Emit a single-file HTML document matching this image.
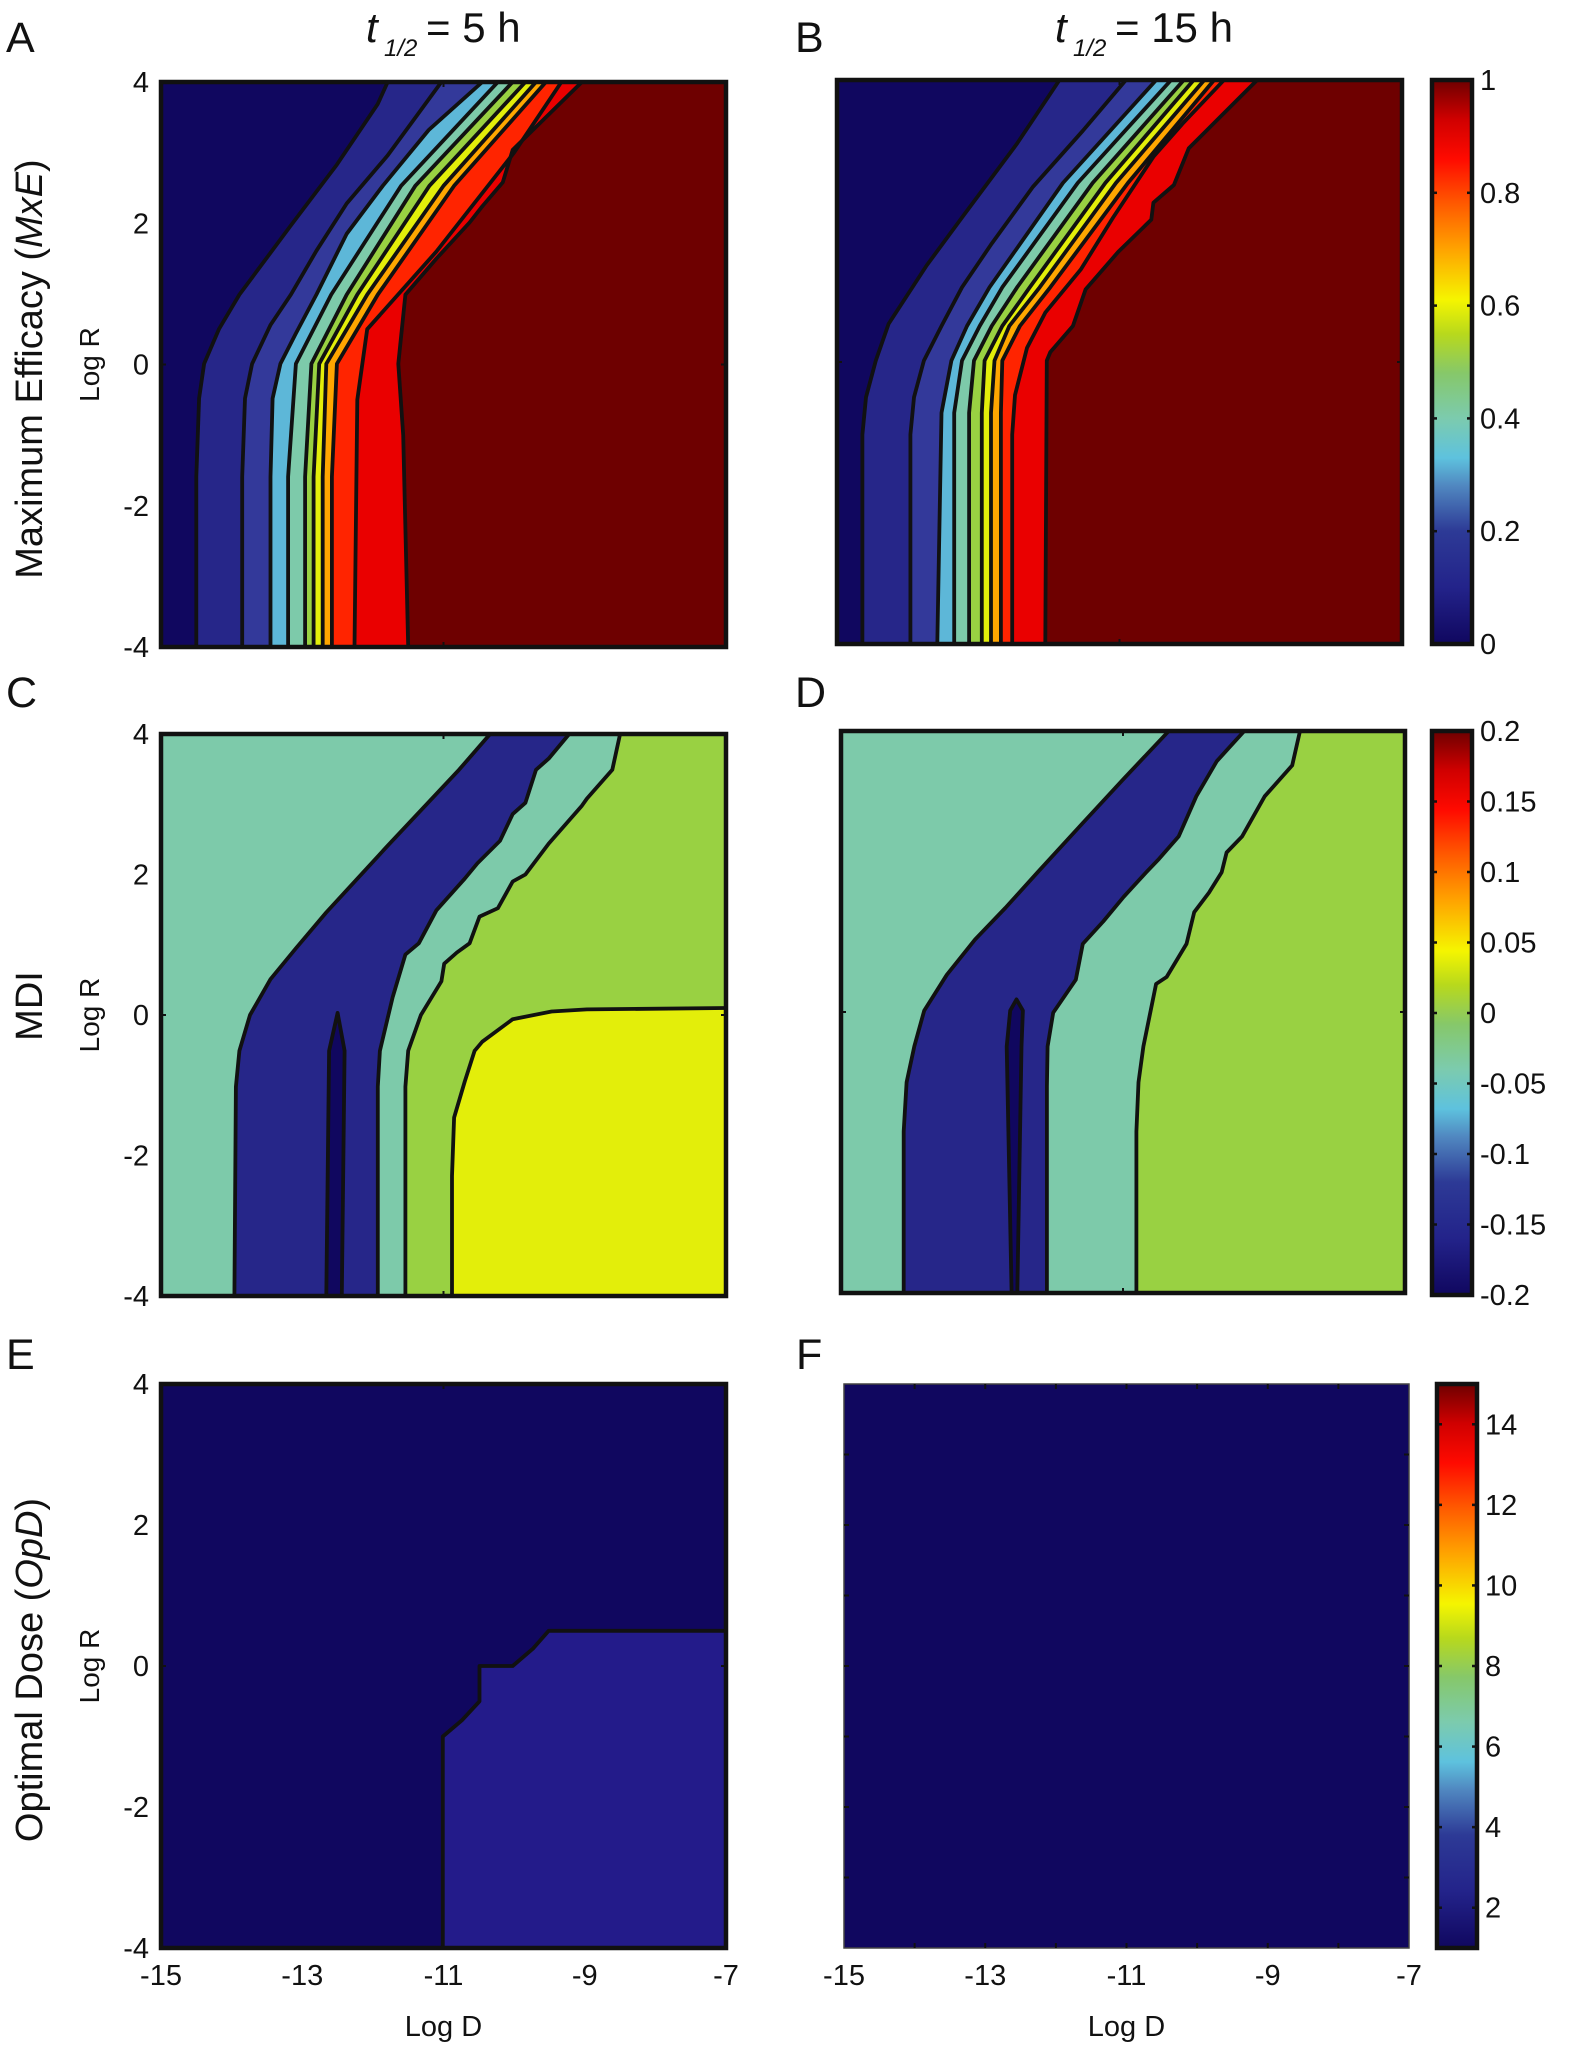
<!DOCTYPE html>
<html><head><meta charset="utf-8"><style>
html,body{margin:0;padding:0;background:#fff;}
svg{display:block;font-family:"Liberation Sans",Arial,sans-serif;}
</style></head><body>
<svg id="fig" width="1571" height="2048" viewBox="0 0 1571 2048"></svg>
<script>
// ---------- data (Log D, Log R) ----------
const xTicks = [-15, -13, -11, -9, -7];
const yTicks = [4, 2, 0, -2, -4];
const cbTicksB = [0, 0.2, 0.4, 0.6, 0.8, 1];
const cbLabelsB = ['0', '0.2', '0.4', '0.6', '0.8', '1'];
const cbTicksD = [-0.2, -0.15, -0.1, -0.05, 0, 0.05, 0.1, 0.15, 0.2];
const cbLabelsD = ['-0.2', '-0.15', '-0.1', '-0.05', '0', '0.05', '0.1', '0.15', '0.2'];
const cbTicksF = [2, 4, 6, 8, 10, 12, 14];
const cbLabelsF = ['2', '4', '6', '8', '10', '12', '14'];

// Panel A contour boundaries (each from top to bottom)
const A_b1 = [[-11.79,4],[-11.93,3.69],[-12.51,2.83],[-13.16,1.97],[-13.89,0.99],[-14.18,0.5],[-14.39,0.01],[-14.46,-0.48],[-14.5,-1.59],[-14.5,-4]];
const A_b2 = [[-11.03,4],[-11.79,2.96],[-12.37,2.28],[-12.8,1.61],[-13.16,0.99],[-13.45,0.56],[-13.71,0.01],[-13.81,-0.48],[-13.85,-1.59],[-13.85,-4]];
const A_b3 = [[-10.45,4],[-11.21,3.32],[-11.86,2.53],[-12.37,1.85],[-12.8,0.99],[-13.09,0.44],[-13.31,0.01],[-13.42,-0.48],[-13.45,-1.59],[-13.45,-4]];
const A_b4 = [[-10.23,4],[-11.6,2.53],[-12.59,0.99],[-13.09,0.01],[-13.2,-1.59],[-13.2,-4]];
const A_b5 = [[-10.02,4],[-11.4,2.53],[-12.37,0.99],[-12.87,0.01],[-12.96,-1.59],[-12.96,-4]];
const A_b6 = [[-9.84,4],[-11.2,2.53],[-12.22,0.99],[-12.76,0.01],[-12.84,-1.59],[-12.84,-4]];
const A_b7 = [[-9.69,4],[-11.0,2.53],[-12.08,0.99],[-12.66,0.01],[-12.71,-1.59],[-12.71,-4]];
const A_b8 = [[-9.55,4],[-10.85,2.53],[-11.93,0.99],[-12.51,0.01],[-12.58,-1.59],[-12.58,-4]];
const A_b9 = [[-9.33,4],[-10.0,3.0],[-11.1,1.6],[-12.08,0.5],[-12.22,-0.5],[-12.26,-4]];
const A_b10 = [[-9.04,4],[-10.02,3.04],[-10.16,2.58],[-10.45,2.24],[-10.63,2.01],[-11.1,1.5],[-11.54,0.99],[-11.64,0.01],[-11.57,-1.0],[-11.5,-4]];

// Panel B
const B_b1 = [[-11.85,4],[-12.45,3.10],[-13.23,2.05],[-13.73,1.37],[-14.27,0.54],[-14.45,0.02],[-14.59,-0.50],[-14.64,-1.03],[-14.64,-4]];
const B_b2 = [[-10.91,4],[-11.52,3.28],[-12.23,2.48],[-12.81,1.68],[-13.23,1.06],[-13.52,0.51],[-13.77,0.02],[-13.91,-0.50],[-13.96,-1.03],[-13.96,-4]];
const B_b3 = [[-10.48,4],[-11.80,2.54],[-12.84,1.06],[-13.16,0.51],[-13.38,0.02],[-13.52,-0.72],[-13.58,-4]];
const B_b4 = [[-10.27,4],[-11.59,2.54],[-12.66,1.06],[-12.98,0.51],[-13.23,0.02],[-13.34,-0.72],[-13.34,-4]];
const B_b5 = [[-10.09,4],[-11.38,2.54],[-12.45,1.06],[-12.81,0.51],[-13.06,0.02],[-13.13,-0.72],[-13.13,-4]];
const B_b6 = [[-9.95,4],[-11.20,2.54],[-12.27,1.06],[-12.66,0.51],[-12.91,0.02],[-12.95,-0.72],[-12.95,-4]];
const B_b7 = [[-9.80,4],[-11.05,2.54],[-12.13,1.06],[-12.56,0.51],[-12.77,0.02],[-12.82,-0.72],[-12.82,-4]];
const B_b8 = [[-9.66,4],[-10.88,2.54],[-11.98,1.06],[-12.41,0.51],[-12.66,0.02],[-12.68,-0.72],[-12.68,-4]];
const B_b9 = [[-9.52,4],[-10.09,3.40],[-10.52,2.91],[-11.09,2.05],[-11.55,1.31],[-12.05,0.70],[-12.31,0.20],[-12.48,-0.47],[-12.52,-1.03],[-12.52,-4]];
const B_b10 = [[-9.05,4],[-10.02,3.03],[-10.23,2.51],[-10.52,2.26],[-10.55,2.02],[-11.02,1.56],[-11.48,1.03],[-11.66,0.51],[-11.98,0.14],[-12.03,0.02],[-12.05,-4]];

// Panel C
const C_b1 = [[-10.34,4],[-10.78,3.49],[-11.79,2.41],[-12.66,1.46],[-13.09,0.95],[-13.45,0.51],[-13.74,0],[-13.89,-0.51],[-13.94,-1.02],[-13.96,-4]];
const C_sliver = [[-12.66,-4],[-12.62,-0.51],[-12.50,0.03],[-12.40,-0.51],[-12.44,-4]];
const C_b3 = [[-9.22,4],[-9.51,3.65],[-9.69,3.49],[-9.84,3.02],[-10.02,2.86],[-10.20,2.48],[-10.52,2.16],[-10.70,1.94],[-11.10,1.49],[-11.35,1.02],[-11.54,0.86],[-11.72,0.25],[-11.90,-0.51],[-11.93,-1.02],[-11.93,-4]];
const C_b4 = [[-8.50,4],[-8.61,3.49],[-8.97,3.08],[-9.04,2.98],[-9.51,2.44],[-9.84,2.0],[-10.02,1.90],[-10.23,1.52],[-10.49,1.40],[-10.63,1.02],[-10.81,0.89],[-10.99,0.73],[-11.03,0.48],[-11.32,0],[-11.50,-0.51],[-11.54,-1.02],[-11.54,-4]];
const C_b5 = [[-7,0.10],[-8.97,0.08],[-9.47,0.05],[-10.02,-0.06],[-10.45,-0.38],[-10.56,-0.51],[-10.70,-0.95],[-10.85,-1.46],[-10.88,-2.29],[-10.88,-4]];

// Panel D
const D_b1 = [[-10.35,4],[-10.99,3.32],[-11.57,2.69],[-12.21,1.99],[-12.67,1.48],[-13.10,1.03],[-13.50,0.53],[-13.82,0.02],[-13.96,-0.49],[-14.07,-1.0],[-14.11,-1.70],[-14.11,-4]];
const D_sliver = [[-12.58,-4],[-12.65,-0.49],[-12.60,0.02],[-12.51,0.18],[-12.42,0.02],[-12.44,-0.49],[-12.50,-4]];
const D_b3 = [[-9.28,4],[-9.49,3.77],[-9.67,3.57],[-9.96,3.07],[-10.21,2.50],[-10.49,2.18],[-10.67,1.99],[-10.99,1.64],[-11.28,1.29],[-11.57,0.97],[-11.67,0.46],[-11.99,-0.01],[-12.07,-0.49],[-12.08,-1.06],[-12.08,-4]];
const D_b4 = [[-8.49,4],[-8.60,3.51],[-8.99,3.07],[-9.31,2.50],[-9.53,2.27],[-9.60,1.99],[-9.78,1.70],[-9.99,1.42],[-10.10,0.97],[-10.38,0.50],[-10.53,0.40],[-10.71,-0.49],[-10.78,-1.0],[-10.81,-1.70],[-10.81,-4]];

// Panel E
const E_b1 = [[-7,0.5],[-9.51,0.5],[-9.73,0.25],[-10.02,0],[-10.49,0],[-10.49,-0.5],[-10.74,-0.77],[-11.01,-1.0],[-11.01,-4]];

// ---------- styling ----------
const NAVY='#10075f', BLUE='#262689', MBLUE='#33399a', LBLUE='#5db7d8', TEAL='#7dcaaa', GREEN='#99d142', YEL='#e3ee0a', ORA='#ffa600', OREDD='#ff2400', RED='#ea0000', DRED='#6e0000';
const SVGNS='http://www.w3.org/2000/svg';
const svg=document.getElementById('fig');
function el(tag, attrs, parent){const e=document.createElementNS(SVGNS,tag);for(const k in attrs)e.setAttribute(k,attrs[k]);(parent||svg).appendChild(e);return e;}
function txt(s, attrs, parent){const t=el('text',attrs,parent);t.textContent=s;return t;}

function makePanel(name, box){
  const g=el('g',{});
  
  
  const sx=v=>box.x0+(v+15)/8*(box.x1-box.x0);
  const sy=v=>box.y1-(v+4)/8*(box.y1-box.y0);
  const pts=a=>a.map(p=>sx(p[0]).toFixed(1)+','+sy(p[1]).toFixed(1)).join(' ');
  return {g,sx,sy,pts,box};
}
function bg(P,color){
  const r=el('rect',{x:P.box.x0,y:P.box.y0,width:P.box.x1-P.box.x0,height:P.box.y1-P.box.y0,fill:color},P.g);
  
  
}
function rightRegion(P,bnd,color,name){
  const poly=bnd.concat([[-7,-4],[-7,4]]);
  const p=el('polygon',{points:P.pts(poly),fill:color},P.g);
  
  
}
function closedRegion(P,poly,color,name){
  const p=el('polygon',{points:P.pts(poly),fill:color},P.g);
  
  
}
function line(P,bnd,closed,w){
  const l=el(closed?'polygon':'polyline',{points:P.pts(bnd),fill:'none',stroke:'#111','stroke-width':w||3.8,'stroke-linejoin':'round'},P.g);
  
  
}
function frame(P,thin,minor){
  const b=P.box;
  const r=el('rect',{x:b.x0,y:b.y0,width:b.x1-b.x0,height:b.y1-b.y0,fill:'none',stroke:thin?'#444':'#111','stroke-width':thin?1.5:4.5},P.g);
  
  
  const xs=minor?[-14,-13,-12,-11,-10,-9,-8]:[-11];
  const ys=minor?[3,2,1,0,-1,-2,-3]:[0];
  xs.forEach(v=>{el('line',{x1:P.sx(v),x2:P.sx(v),y1:b.y0,y2:b.y0+5,stroke:'#111','stroke-width':2},P.g);el('line',{x1:P.sx(v),x2:P.sx(v),y1:b.y1,y2:b.y1-5,stroke:'#111','stroke-width':2},P.g);});
  ys.forEach(v=>{el('line',{x1:b.x0,x2:b.x0+5,y1:P.sy(v),y2:P.sy(v),stroke:'#111','stroke-width':2},P.g);el('line',{x1:b.x1,x2:b.x1-5,y1:P.sy(v),y2:P.sy(v),stroke:'#111','stroke-width':2},P.g);});
}
function yLabels(P){
  yTicks.forEach(v=>{
    const t=txt(String(v),{x:P.box.x0-12,y:P.sy(v)+10,'font-size':29,'text-anchor':'end',fill:'#111'});
    
    
  });
  const cy=(P.box.y0+P.box.y1)/2;
  const t=txt('Log R',{x:0,y:0,'font-size':28,'text-anchor':'middle',fill:'#111',transform:`translate(99,${cy}) rotate(-90)`});
  
  
}
function xLabels(P){
  xTicks.forEach(v=>{
    const t=txt(String(v),{x:P.sx(v),y:1985,'font-size':29,'text-anchor':'middle',fill:'#111'});
    
    
  });
  const t=txt('Log D',{x:(P.box.x0+P.box.x1)/2,y:2036,'font-size':29,'text-anchor':'middle',fill:'#111'});
  
  
}
// gradient
const defs=el('defs',{});
const grad=el('linearGradient',{id:'jet',x1:0,y1:1,x2:0,y2:0},defs);
[[0,'#10075f'],[0.1,'#23238a'],[0.2,'#2d3a96'],[0.28,'#5087c0'],[0.33,'#5ec2de'],[0.4,'#7ccbae'],[0.48,'#86c86a'],[0.55,'#b8d91c'],[0.61,'#f5f500'],[0.7,'#ffa300'],[0.78,'#ff5a00'],[0.86,'#ff0a00'],[0.93,'#d00000'],[1,'#6e0000']]
 .forEach(s=>el('stop',{offset:s[0],'stop-color':s[1]},grad));
function colorbar(name,box,lo,hi,ticks,labels){
  const g=el('g',{});
  
  
  el('rect',{x:box.x0,y:box.y0,width:box.x1-box.x0,height:box.y1-box.y0,fill:'url(#jet)',stroke:'#111','stroke-width':4.5},g);
  const sy=v=>box.y1-(v-lo)/(hi-lo)*(box.y1-box.y0);
  ticks.forEach((v,i)=>{
    el('line',{x1:box.x0,x2:box.x0+5,y1:sy(v),y2:sy(v),stroke:'#111','stroke-width':2.5},g);
    el('line',{x1:box.x1,x2:box.x1-5,y1:sy(v),y2:sy(v),stroke:'#111','stroke-width':2.5},g);
    const t=txt(labels[i],{x:box.x1+8,y:sy(v)+10,'font-size':29,fill:'#111'},g);
    
    
  });
}
function letter(s,x,y){const t=txt(s,{x:x,y:y,'font-size':43,fill:'#111'});}
function rowTitle(s,cy){const t=txt('',{x:0,y:0,'font-size':38,'text-anchor':'middle',fill:'#111',transform:`translate(42,${cy}) rotate(-90)`});t.innerHTML=s;}

// ---------- Panel A ----------
const boxA={x0:161,x1:726,y0:82,y1:647};
const PA=makePanel('panel-a-contour',boxA);
bg(PA,NAVY);
const A_bs=[A_b1,A_b2,A_b3,A_b4,A_b5,A_b6,A_b7,A_b8,A_b9,A_b10];
const A_cols=[BLUE,MBLUE,LBLUE,TEAL,GREEN,YEL,ORA,OREDD,RED,DRED];
A_bs.forEach((b,i)=>rightRegion(PA,b,A_cols[i],'contour-band'));
A_bs.forEach(b=>line(PA,b,false));
frame(PA,false,false); yLabels(PA);

// ---------- Panel B ----------
const boxB={x0:837,x1:1402,y0:80,y1:644};
const PB=makePanel('panel-b-contour',boxB);
bg(PB,NAVY);
const B_bs=[B_b1,B_b2,B_b3,B_b4,B_b5,B_b6,B_b7,B_b8,B_b9,B_b10];
B_bs.forEach((b,i)=>rightRegion(PB,b,A_cols[i],'contour-band'));
B_bs.forEach(b=>line(PB,b,false));
frame(PB,false,false);
colorbar('colorbar-mxe',{x0:1432,x1:1472,y0:80,y1:644},0,1,cbTicksB,cbLabelsB);

// ---------- Panel C ----------
const boxC={x0:161,x1:726,y0:734,y1:1296};
const PC=makePanel('panel-c-contour',boxC);
bg(PC,TEAL);
rightRegion(PC,C_b1,BLUE,'contour-band');
rightRegion(PC,C_b3,TEAL,'contour-band');
rightRegion(PC,C_b4,GREEN,'contour-band');
closedRegion(PC,C_b5.concat([[-7,-4]]),YEL,'contour-band');
closedRegion(PC,C_sliver,NAVY,'contour-sliver');
[C_b1,C_b3,C_b4,C_b5].forEach(b=>line(PC,b,false));
line(PC,C_sliver,true);
frame(PC,false,false); yLabels(PC);

// ---------- Panel D ----------
const boxD={x0:841,x1:1405,y0:731,y1:1293};
const PD=makePanel('panel-d-contour',boxD);
bg(PD,TEAL);
rightRegion(PD,D_b1,BLUE,'contour-band');
rightRegion(PD,D_b3,TEAL,'contour-band');
rightRegion(PD,D_b4,GREEN,'contour-band');
closedRegion(PD,D_sliver,NAVY,'contour-sliver');
[D_b1,D_b3,D_b4].forEach(b=>line(PD,b,false));
line(PD,D_sliver,true);
frame(PD,false,false);
colorbar('colorbar-mdi',{x0:1432,x1:1472,y0:731,y1:1295},-0.2,0.2,cbTicksD,cbLabelsD);

// ---------- Panel E ----------
const boxE={x0:161,x1:726,y0:1384,y1:1948};
const PE=makePanel('panel-e-contour',boxE);
bg(PE,NAVY);
closedRegion(PE,E_b1.concat([[-7,-4]]),'#231b8a','contour-band');
line(PE,E_b1,false);
frame(PE,false,false); yLabels(PE); xLabels(PE);

// ---------- Panel F ----------
const boxF={x0:844,x1:1409,y0:1384,y1:1948};
const PF=makePanel('panel-f-contour',boxF);
bg(PF,NAVY);
frame(PF,true,true); xLabels(PF);
colorbar('colorbar-opd',{x0:1437,x1:1477,y0:1384,y1:1948},1,15,cbTicksF,cbLabelsF);

// ---------- text ----------
letter('A',6,52); letter('B',795,52); letter('C',6,707); letter('D',795,707); letter('E',6,1369); letter('F',796,1369);
rowTitle('Maximum Efficacy (<tspan font-style="italic">MxE</tspan>)',369);
rowTitle('MDI',1006);
rowTitle('Optimal Dose (<tspan font-style="italic">OpD</tspan>)',1670);
function colTitle(x,val,name){
  const g=el('g',{});
  
  
  txt('t',{x:x,y:42,'font-size':42,'font-style':'italic',fill:'#111'},g);
  txt('1/2',{x:x+18,y:56,'font-size':24,'font-style':'italic',fill:'#111'},g);
  txt('= '+val+' h',{x:x+60,y:42,'font-size':42,fill:'#111'},g);
}
colTitle(366,'5','column-title-5h');
colTitle(1055,'15','column-title-15h');
</script>
</body></html>
